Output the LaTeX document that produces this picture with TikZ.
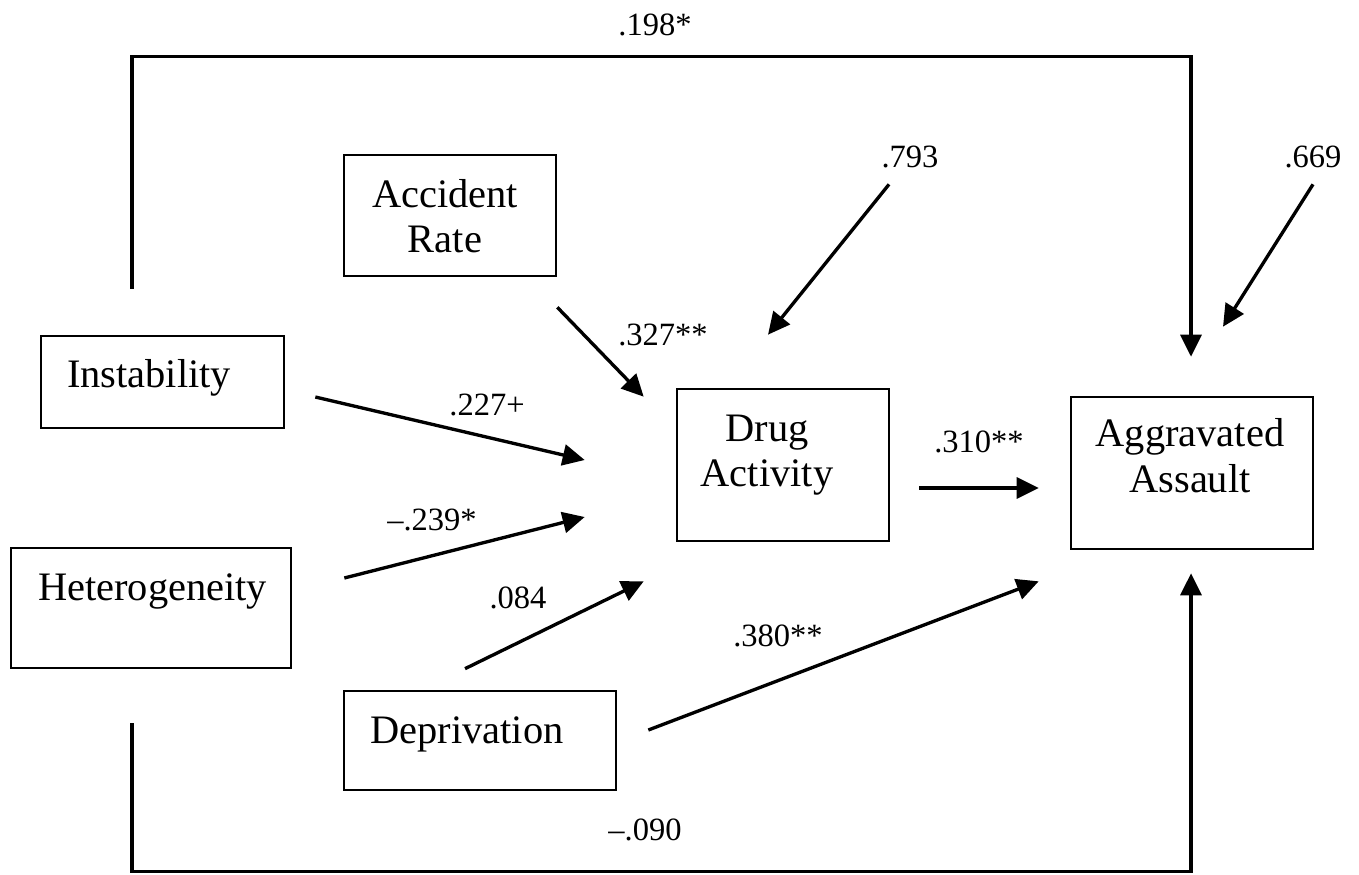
\documentclass[tikz,border=0pt]{standalone}
\usepackage{fontspec}
\setmainfont{Liberation Serif}
\usetikzlibrary{arrows.meta,positioning}
\tikzset{
  box/.style={rectangle, draw=black, line width=1.5pt},
  boxtext/.style={align=center, inner sep=0pt, font=\fontsize{23}{26}\selectfont},
  coef/.style={inner sep=0pt, font=\fontsize{18.5}{21}\selectfont},
  arrow/.style={-{Triangle[length=4.4mm, width=4.2mm]}, line width=1.9pt, draw=black},
  line/.style={line width=1.9pt, draw=black}
}

\begin{document}
\begin{tikzpicture}[x=0.2mm, y=-0.2mm]
\useasboundingbox (0,0) rectangle (1359,874);
% boxes
\node[box, minimum width=42.4mm, minimum height=24.2mm] (accident) at (450,215.5) {};
\node[box, minimum width=48.6mm, minimum height=18.4mm] (instab) at (162.5,382) {};
\node[box, minimum width=56mm, minimum height=24mm] (het) at (151,608) {};
\node[box, minimum width=42.4mm, minimum height=30.4mm] (drug) at (783,465) {};
\node[box, minimum width=48.4mm, minimum height=30.4mm] (assault) at (1192,473) {};
\node[box, minimum width=54.4mm, minimum height=19.8mm] (depriv) at (480,740.5) {};
% box texts
\node[boxtext, font=\fontsize{23}{25.5}\selectfont] (accidenttxt) at (445,216) {Accident\\Rate};
\node[boxtext, anchor=base] (instabtxt) at (149,387) {Instability};
\node[boxtext, anchor=base] (hettxt) at (152.5,600) {Heterogeneity};
\node[boxtext] (drugtxt) at (767,455) {Drug\\Activity};
\node[boxtext] (assaulttxt) at (1190,456) {Aggravated\\Assault};
\node[boxtext, anchor=base] (deprivtxt) at (467,743) {Deprivation};
% error terms
\node[coef] (e793) at (910,157) {.793};
\node[coef] (e669) at (1313,157) {.669};
% paths
\draw[arrow] ([shift={(30,15)}]instab.east) -- ([shift={(-91,-5)}]drug.west);
\draw[arrow] ([shift={(52,-30)}]het.east) -- ([shift={(-91,52)}]drug.west);
\draw[arrow] ([shift={(0,30)}]accident.south east) -- ([shift={(-32,9)}]drug.north west);
\draw[arrow] ([shift={(-15,-21)}]depriv.north) -- ([shift={(-32,39)}]drug.south west);
\draw[arrow] ([shift={(31,-10.5)}]depriv.east) -- ([shift={(-31,31)}]assault.south west);
\draw[arrow] ([shift={(29,23)}]drug.east) -- ([shift={(-31,15)}]assault.west);
\draw[arrow] ([shift={(-30.5,-46)}]instab.north) -- ++(0,-232) -| ([shift={(-1,-39)}]assault.north);
\draw[arrow] ([shift={(-19,54)}]het.south) -- ++(0,148) -| ([shift={(-1,23)}]assault.south);
\draw[arrow] ([shift={(-21,16)}]e793.south) -- ([shift={(-15,-53)}]drug.north);
\draw[arrow] ([shift={(0,16)}]e669.south) -- ([shift={(31,-69)}]assault.north);
% coefficients
\node[coef] (c198) at (655,25) {.198*};
\node[coef] (c090) at (645,830) {\textendash.090};
\node[coef] (c327) at (663,335) {.327**};
\node[coef] (c227) at (487,405) {.227+};
\node[coef] (c239) at (432,520) {\textendash.239*};
\node[coef] (c084) at (518,598) {.084};
\node[coef] (c380) at (778,636) {.380**};
\node[coef] (c310) at (979,442) {.310**};
\end{tikzpicture}
\end{document}
